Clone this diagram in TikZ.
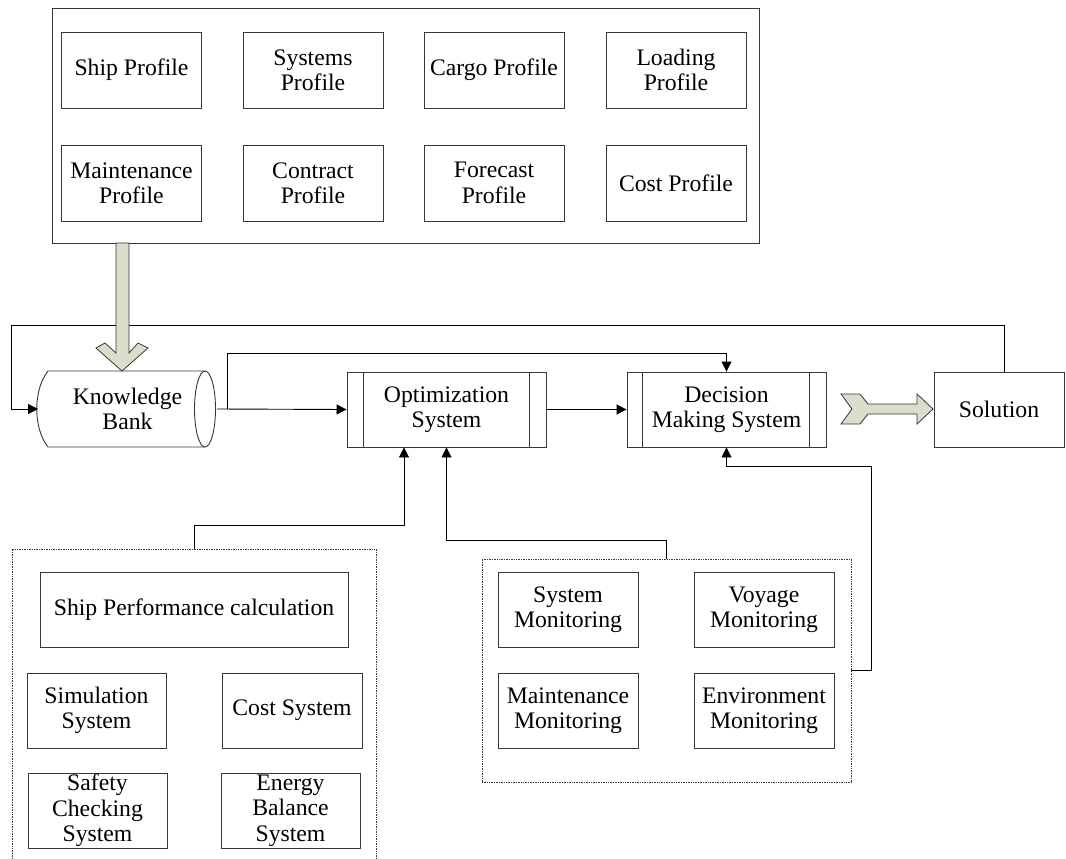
\documentclass[tikz,border=0pt]{standalone}
\usepackage{fontspec}
\setmainfont{Liberation Serif}
\usetikzlibrary{arrows.meta,calc}
\definecolor{grn}{RGB}{218,222,203}
\definecolor{ln}{RGB}{55,55,55}
\begin{document}
\begin{tikzpicture}[x=1pt,y=-1pt,
  box/.style={draw=ln, line width=0.9pt, rectangle, inner sep=0pt, align=center,
    font=\fontsize{23.7}{25.3}\selectfont},
  pbox/.style={box, minimum width=140pt, minimum height=76pt},
  frame/.style={draw=ln, line width=0.9pt, rectangle, inner sep=0pt},
  dframe/.style={draw=ln, line width=0.7pt, densely dotted, rectangle, inner sep=0pt},
  conn/.style={draw=black, line width=0.9pt},
  arr/.style={conn, -{Triangle[length=10pt,width=10pt]}},
  fat/.style={draw=ln, line width=0.8pt, fill=grn, line join=miter}]
\useasboundingbox (0,0) rectangle (1066,859);
\clip (0,0) rectangle (1066,859);

% top profile frame
\node[frame, minimum width=707pt, minimum height=235pt] (prof) at (405.5,125.5) {};
\node[pbox] (ship) at (131.5,70) {Ship Profile};
\node[pbox] (sys) at (313,70) {Systems\\Profile};
\node[pbox] (cargo) at (494,70) {Cargo Profile};
\node[pbox] (load) at (676,70) {Loading\\Profile};
\node[pbox] (maint) at (131.5,183) {Maintenance\\Profile};
\node[pbox] (contr) at (313,183) {Contract\\Profile};
\node[pbox] (fore) at (494,183) {Forecast\\Profile};
\node[pbox] (cost) at (676,183) {Cost Profile};

% knowledge bank (cylinder)
\node[box, draw=none, minimum width=178pt, minimum height=76pt] (kb) at (127.5,409) {Knowledge\\Bank};
\draw[ln, line width=0.9pt] (48,371) -- (205,371)
  (48,447) -- (205,447)
  (48,371) .. controls (33,390) and (33,428) .. (48,447);
\draw[ln, line width=0.9pt] (205,409) ellipse[x radius=10.5pt, y radius=38pt];

% optimization and decision
\node[box, minimum width=199pt, minimum height=75pt] (opt) at (446.5,409.5) {Optimization\\System};
\draw[ln, line width=0.9pt] ([xshift=17pt]opt.north west) -- ([xshift=17pt]opt.south west)
  ([xshift=-17pt]opt.north east) -- ([xshift=-17pt]opt.south east);
\node[box, minimum width=199pt, minimum height=75pt] (dec) at (726.5,409.5) {Decision\\Making System};
\draw[ln, line width=0.9pt] ([xshift=16pt]dec.north west) -- ([xshift=16pt]dec.south west)
  ([xshift=-17pt]dec.north east) -- ([xshift=-17pt]dec.south east);
\node[box, minimum width=130pt, minimum height=75pt] (sol) at (999,409.5) {Solution};

% left dotted group
\node[dframe, minimum width=364pt, minimum height=340pt] (lbox) at (194,719) {};
\node[box, minimum width=308pt, minimum height=75pt] (perf) at (194,609.5) {Ship Performance calculation};
\node[box, minimum width=139pt, minimum height=75pt] (sim) at (96.5,710.5) {Simulation\\System};
\node[box, minimum width=140pt, minimum height=75pt] (csys) at (292,710.5) {Cost System};
\node[box, minimum width=139pt, minimum height=75pt] (safe) at (97.5,810.5) {Safety\\Checking\\System};
\node[box, minimum width=139pt, minimum height=75pt] (ener) at (290.5,810.5) {Energy\\Balance\\System};

% right dotted group
\node[dframe, minimum width=369pt, minimum height=223pt] (rbox) at (666.5,670.5) {};
\node[box, minimum width=140pt, minimum height=75pt] (smon) at (568,609.5) {System\\Monitoring};
\node[box, minimum width=140pt, minimum height=75pt] (vmon) at (764,609.5) {Voyage\\Monitoring};
\node[box, minimum width=140pt, minimum height=75pt] (mmon) at (568,710.5) {Maintenance\\Monitoring};
\node[box, minimum width=140pt, minimum height=75pt] (emon) at (764,710.5) {Environment\\Monitoring};

% connectors
\draw[arr] ([xshift=5pt]sol.north) |- (11,325) |- (kb.west);
\draw[arr] (kb.east) -- (opt.west);
\draw[arr] ([xshift=10pt]kb.east) -- ++(0,-56) -| (dec.north);
\draw[arr] (opt.east) -- (dec.west);
\draw[arr] (lbox.north) -- ++(0,-23) -| ([xshift=-42.5pt]opt.south);
\draw[arr] (rbox.north) -- ++(0,-18) -| (opt.south);
\draw[arr] (rbox.east) -| (871,466) -| (dec.south);

% fat green arrows
\draw[fat] (116,243) -- (116,353) -- (105,343) -- (96,348) -- (122,371) -- (148,348)
  -- (138,343) -- (129,353) -- (129,243) -- cycle;
\draw[fat] (841,394) -- (860,394) -- (868,404) -- (917,404) -- (917,394) -- (933,409)
  -- (917,424) -- (917,414) -- (868,414) -- (860,424) -- (841,424) -- (852,409) -- cycle;
\end{tikzpicture}
\end{document}
